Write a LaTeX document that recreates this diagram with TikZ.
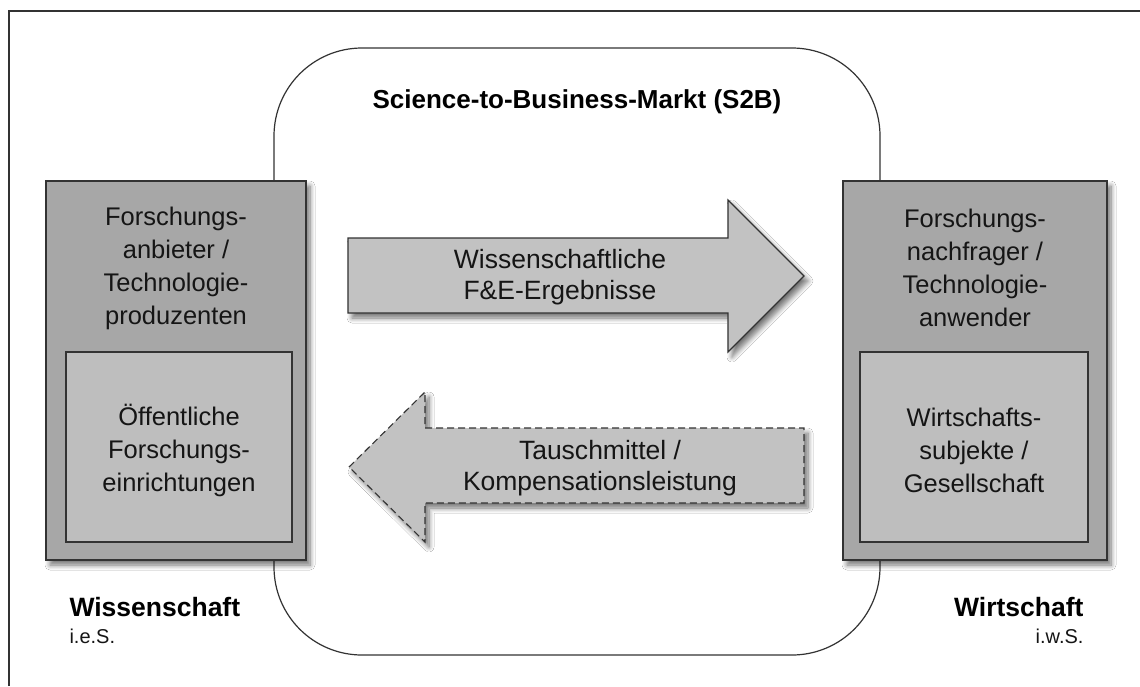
\documentclass[tikz,border=0pt]{standalone}
\usepackage{fontspec}
\setmainfont{Liberation Sans}
\usetikzlibrary{shadows.blur}
\definecolor{outerfill}{HTML}{A7A7A7}
\definecolor{innerfill}{HTML}{BEBEBE}
\definecolor{arrowfill}{HTML}{C2C2C2}
\definecolor{linec}{HTML}{333333}
\definecolor{textc}{HTML}{151515}
\begin{document}
\begin{tikzpicture}[x=1pt,y=-1pt,
  shade/.style={blur shadow={shadow xshift=4pt,shadow yshift=-5pt,shadow blur steps=8,shadow blur radius=5pt,shadow opacity=55}},
  outerbox/.style={draw=linec,line width=1.2pt,fill=outerfill,shade},
  innerbox/.style={draw=linec,line width=1.1pt,fill=innerfill},
  arrowshape/.style={draw=linec,line width=1.1pt,fill=arrowfill,shade},
  boxtext/.style={align=center,text=textc,font=\fontsize{25.5}{33}\selectfont},
  arrowtext/.style={align=center,text=textc,font=\fontsize{26.5}{31.5}\selectfont},
  bigbold/.style={text=black,font=\bfseries\fontsize{26.5}{30}\selectfont},
  small/.style={text=textc,font=\fontsize{20}{24}\selectfont}]
\useasboundingbox (0,0) rectangle (1140,686);
\fill[white] (0,0) rectangle (1140,686);
% frame
\coordinate (fbl) at (9,686);
\coordinate (ftl) at (9,11);
\coordinate (ftr) at (1140,11);
\draw[linec,line width=1.5pt] (fbl) -- (ftl) -- (ftr);
% market
\draw[linec,line width=1.2pt,rounded corners=88pt] (274,48) rectangle (880,655);
\node[font=\bfseries\fontsize{26}{30}\selectfont,text=black] (title) at (577,102) {Science-to-Business-Markt (S2B)};
% left side
\node[outerbox,minimum width=260pt,minimum height=379pt,inner sep=0pt] (lbox) at (176,370.5) {};
\node[innerbox,minimum width=226pt,minimum height=190pt,inner sep=0pt] (linner) at (179,447) {};
\node[boxtext] (ltext) at (176,268) {Forschungs-\\anbieter /\\Technologie-\\produzenten};
\node[boxtext] (litext) at (179,450) {Öffentliche\\Forschungs-\\einrichtungen};
% right side
\node[outerbox,minimum width=264pt,minimum height=379pt,inner sep=0pt] (rbox) at (975,370.5) {};
\node[innerbox,minimum width=228pt,minimum height=190pt,inner sep=0pt] (rinner) at (974,447) {};
\node[boxtext] (rtext) at (975,268) {Forschungs-\\nachfrager /\\Technologie-\\anwender};
\node[boxtext] (ritext) at (974,450) {Wirtschafts-\\subjekte /\\Gesellschaft};
% arrows
\draw[arrowshape] (348,238) -- (728,238) -- (728,200) -- (804,276) -- (728,352) -- (728,313) -- (348,313) -- cycle;
\node[arrowtext] (atop) at (560,277) {Wissenschaftliche\\F\&E-Ergebnisse};
\draw[arrowshape,dashed,dash pattern=on 7pt off 4pt] (349,467) -- (425,392) -- (425,428) -- (804,428) -- (804,503) -- (425,503) -- (425,542) -- cycle;
\node[arrowtext] (abot) at (600,468) {Tauschmittel /\\Kompensationsleistung};
% labels
\node[bigbold,anchor=base west] (wiss) at (66,616) {Wissenschaft};
\node[small,anchor=base west] (ies) at (66,643) {i.e.S.};
\node[bigbold,anchor=base east] (wirt) at (1087,616) {Wirtschaft};
\node[small,anchor=base east] (iws) at (1087,643) {i.w.S.};
\end{tikzpicture}
\end{document}
